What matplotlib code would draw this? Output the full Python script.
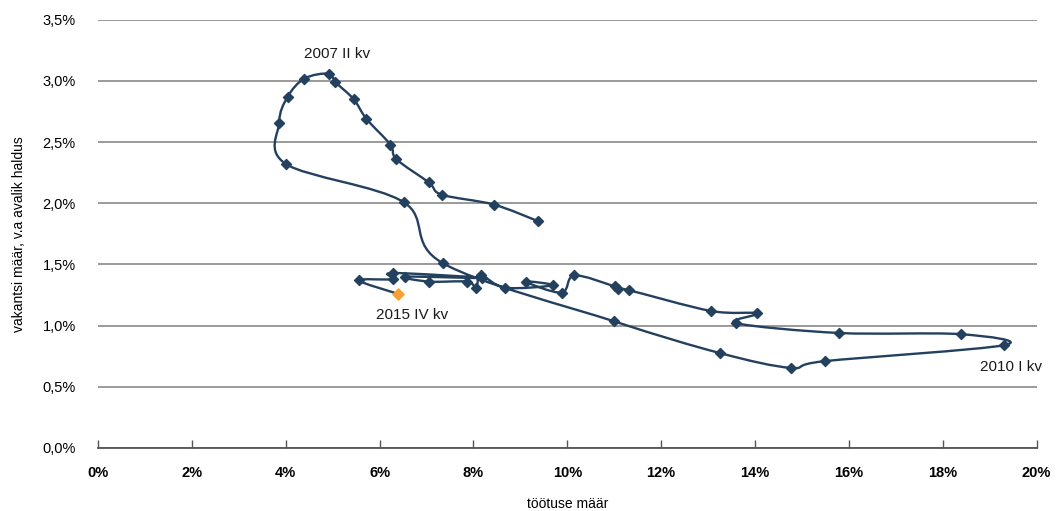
import matplotlib
matplotlib.use("Agg")
import matplotlib.pyplot as plt
import numpy as np
from matplotlib.path import Path
from matplotlib.patches import PathPatch
from matplotlib.ticker import FuncFormatter

plt.rcParams['font.family'] = ['Liberation Sans', 'DejaVu Sans']

# töötuse määr (%), 2005 I kv ... 2015 IV kv
unemployment = [9.37, 8.43, 7.33, 7.05, 6.36, 6.23, 5.72, 5.45, 5.06, 4.92,
                4.40, 4.04, 3.86, 4.01, 6.51, 7.35, 11.00, 13.25, 14.76, 15.49,
                19.30, 18.39, 15.79, 13.60, 14.04, 13.06, 11.31, 11.09, 11.01, 10.15,
                9.88, 9.11, 9.69, 8.68, 8.16, 8.06, 7.86, 7.05, 6.55, 8.18,
                6.28, 6.28, 5.56, 6.39]
# vakantsi määr, v.a avalik haldus (%)
vacancy = [1.855, 1.99, 2.07, 2.17, 2.36, 2.48, 2.69, 2.85, 2.99, 3.06,
           3.02, 2.87, 2.66, 2.32, 2.01, 1.51, 1.035, 0.776, 0.655, 0.71,
           0.84, 0.93, 0.94, 1.02, 1.10, 1.12, 1.29, 1.30, 1.32, 1.41,
           1.27, 1.36, 1.33, 1.31, 1.41, 1.31, 1.36, 1.36, 1.40, 1.39,
           1.43, 1.38, 1.37, 1.26]

labels = {"2007 II kv": (5.1, 3.22), "2010 I kv": (19.45, 0.66), "2015 IV kv": (6.7, 1.09)}

line_col = '#23405f'
last_col = '#f7a035'

fig = plt.figure(figsize=(10.57, 5.11), dpi=100)
ax = fig.add_axes([0.0927, 0.1233, 0.888, 0.838])

x = np.array(unemployment)
y = np.array(vacancy)

# smoothed line like Excel (Catmull-Rom -> cubic Bezier segments)
pts = np.column_stack([x, y])
verts = [pts[0]]
codes = [Path.MOVETO]
n = len(pts)
for i in range(n - 1):
    p0 = pts[i - 1] if i > 0 else pts[i]
    p1 = pts[i]
    p2 = pts[i + 1]
    p3 = pts[i + 2] if i + 2 < n else pts[i + 1]
    c1 = p1 + (p2 - p0) / 6.0
    c2 = p2 - (p3 - p1) / 6.0
    verts += [c1, c2, p2]
    codes += [Path.CURVE4] * 3
ax.add_patch(PathPatch(Path(verts, codes), facecolor='none', edgecolor=line_col, lw=1.7, zorder=3))

ax.scatter(x[:-1], y[:-1], marker='D', s=26, color=line_col, zorder=4)
ax.scatter(x[-1:], y[-1:], marker='D', s=32, color=last_col, zorder=5)

for txt, (tx, ty) in labels.items():
    ax.text(tx, ty, txt, ha='center', va='center', fontsize=11, color='#1a1a1a')

ax.set_xlim(0, 20)
ax.set_ylim(0, 3.5)
ax.set_xticks(np.arange(0, 21, 2))
ax.set_yticks(np.arange(0, 3.51, 0.5))
ax.xaxis.set_major_formatter(FuncFormatter(lambda v, p: f"{v:.0f}%"))
ax.yaxis.set_major_formatter(FuncFormatter(lambda v, p: f"{v:.1f}%".replace('.', ',')))
for lab in ax.get_xticklabels():
    lab.set_fontweight('bold')
ax.tick_params(axis='x', direction='in', length=6, width=1, color='#555555', labelsize=10.5, pad=13)
ax.tick_params(axis='y', length=0, labelsize=10.5, pad=16)

ax.grid(axis='y', color='#7f7f7f', lw=1.1)
ax.set_axisbelow(True)
for s in ['top', 'right', 'left']:
    ax.spines[s].set_visible(False)
ax.spines['bottom'].set_color('#555555')
ax.spines['bottom'].set_linewidth(1.3)

ax.set_xlabel('töötuse määr', fontsize=10, labelpad=12)
ax.set_ylabel('vakantsi määr, v.a avalik haldus', fontsize=10, labelpad=12)

fig.savefig('out.png', dpi=100)
